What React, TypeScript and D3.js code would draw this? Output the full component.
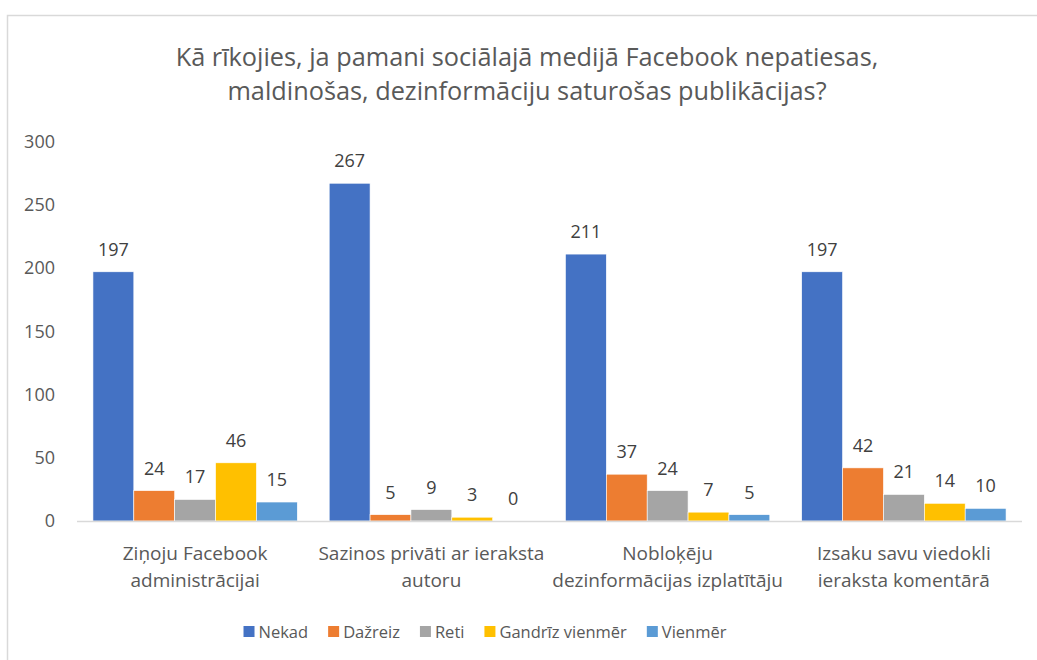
import * as d3 from 'd3';
import React, { useRef, useEffect } from 'react';

const titleLines = [
  'Kā rīkojies, ja pamani sociālajā medijā Facebook nepatiesas,',
  'maldinošas, dezinformāciju saturošas publikācijas?',
];

const categories = [
  ['Ziņoju Facebook', 'administrācijai'],
  ['Sazinos privāti ar ieraksta', 'autoru'],
  ['Nobloķēju', 'dezinformācijas izplatītāju'],
  ['Izsaku savu viedokli', 'ieraksta komentārā'],
];

const seriesNames = ['Nekad', 'Dažreiz', 'Reti', 'Gandrīz vienmēr', 'Vienmēr'];
const seriesColors = ['#4472C4', '#ED7D31', '#A5A5A5', '#FFC000', '#5B9BD5'];

const nekad = [197, 267, 211, 197];
const dazreiz = [24, 5, 37, 42];
const reti = [17, 9, 24, 21];
const gandrizVienmer = [46, 3, 7, 14];
const vienmer = [15, 0, 5, 10];

const yTicks = [0, 50, 100, 150, 200, 250, 300];

const W = 1037;
const H = 660;
const FONT = "'Open Sans', sans-serif";

function App() {
  const ref = useRef(null);

  useEffect(() => {
    draw();
  }, []);

  const draw = () => {
    const svg = d3.select(ref.current);
    svg.selectAll('*').remove();

    svg.append('rect')
      .attr('x', 0).attr('y', 0).attr('width', W).attr('height', H)
      .attr('fill', '#fff');

    // chart frame, runs off the right and bottom edges
    svg.append('rect')
      .attr('x', 7.5).attr('y', 15.5).attr('width', W + 20).attr('height', H + 20)
      .attr('fill', 'none').attr('stroke', '#d9d9d9').attr('stroke-width', 1.5);

    svg.append('g')
      .selectAll('text')
      .data(titleLines)
      .enter()
      .append('text')
      .attr('x', 527)
      .attr('y', (d, i) => 66 + i * 34)
      .attr('text-anchor', 'middle')
      .attr('font-family', FONT)
      .attr('font-size', 25.3)
      .attr('fill', '#595959')
      .text((d) => d);

    const values = [nekad, dazreiz, reti, gandrizVienmer, vienmer];
    const rows = categories.map((c, i) => ({
      key: i,
      vals: values.map((s, j) => ({ series: j, value: s[i] })),
    }));

    const x0 = d3.scaleBand()
      .domain(rows.map((r) => r.key))
      .range([77, 1022])
      .paddingInner(0.135)
      .paddingOuter(0.0675);

    const x1 = d3.scaleBand()
      .domain(seriesNames.map((s, j) => j))
      .range([0, x0.bandwidth()]);

    const y = d3.scaleLinear().domain([0, 300]).range([521, 141.5]);

    // y ticks
    const yAxis = svg.append('g')
      .attr('transform', 'translate(55,0)')
      .call(d3.axisLeft(y).tickValues(yTicks).tickSize(0).tickPadding(0));
    yAxis.select('.domain').remove();
    yAxis.selectAll('text')
      .attr('font-family', FONT)
      .attr('font-size', 18)
      .attr('fill', '#595959');

    const groups = svg.append('g')
      .selectAll('g')
      .data(rows)
      .enter()
      .append('g')
      .attr('transform', (d) => `translate(${x0(d.key)},0)`);

    groups.selectAll('rect')
      .data((d) => d.vals)
      .enter()
      .append('rect')
      .attr('x', (d) => x1(d.series))
      .attr('y', (d) => y(d.value))
      .attr('width', x1.bandwidth())
      .attr('height', (d) => y(0) - y(d.value))
      .attr('fill', (d) => seriesColors[d.series])
      .attr('stroke', '#fff')
      .attr('stroke-width', 0.6);

    groups.selectAll('text')
      .data((d) => d.vals)
      .enter()
      .append('text')
      .attr('x', (d) => x1(d.series) + x1.bandwidth() / 2)
      .attr('y', (d) => y(d.value) - 16)
      .attr('text-anchor', 'middle')
      .attr('font-family', FONT)
      .attr('font-size', 18)
      .attr('fill', '#404040')
      .text((d) => d.value);

    // x axis line
    svg.append('line')
      .attr('x1', 77).attr('x2', 1022)
      .attr('y1', y(0) + 0.5).attr('y2', y(0) + 0.5)
      .attr('stroke', '#d9d9d9').attr('stroke-width', 1.5);

    // category labels
    const catG = svg.append('g');
    rows.forEach((r) => {
      categories[r.key].forEach((line, li) => {
        catG.append('text')
          .attr('x', x0(r.key) + x0.bandwidth() / 2)
          .attr('y', 560 + li * 27)
          .attr('text-anchor', 'middle')
          .attr('font-family', FONT)
          .attr('font-size', 19)
          .attr('fill', '#595959')
          .text(line);
      });
    });

    // legend, laid out from measured text widths
    const legend = svg.append('g');
    const items = legend.selectAll('g')
      .data(seriesNames)
      .enter()
      .append('g');
    items.append('rect')
      .attr('y', 626).attr('width', 11).attr('height', 11)
      .attr('fill', (d, i) => seriesColors[i]);
    items.append('text')
      .attr('x', 15)
      .attr('y', 638)
      .attr('font-family', FONT)
      .attr('font-size', 16.5)
      .attr('fill', '#595959')
      .text((d) => d);

    const widths = [];
    items.select('text').each(function () {
      widths.push(15 + this.getComputedTextLength());
    });
    const gap = 20;
    const total = d3.sum(widths) + gap * (widths.length - 1);
    let cx = 485 - total / 2;
    items.each(function (d, i) {
      d3.select(this).attr('transform', `translate(${cx},0)`);
      cx += widths[i] + gap;
    });
  };

  return (
    <div className="chart">
      <svg ref={ref} width={W} height={H}
        style={{ display: 'block', position: 'absolute', left: 0, top: 0 }}>
      </svg>
    </div>
  );
}

export default App;
